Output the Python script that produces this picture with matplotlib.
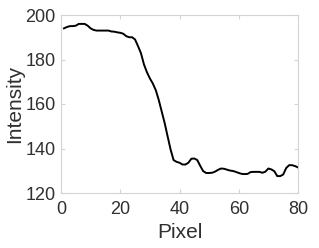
import numpy as np
import matplotlib.pyplot as plt

# perfil de intensidad a lo largo de la linea
pixel = np.arange(1, 81)
intensidad = [194, 194.6, 195, 195, 195.2, 196, 196, 196, 195.2, 194,
              193.3, 193, 193, 193, 193, 193, 192.6, 192.5, 192.2, 192,
              191.6, 190.5, 190, 190, 189, 186, 182.8, 177.8, 174.3, 171.5,
              169.2, 166.2, 161.8, 156.6, 151.4, 145.4, 139.5, 134.8, 134, 133.6,
              132.8, 132.8, 133.6, 135.4, 135.5, 134.8, 132.2, 129.8, 129, 129,
              129.1, 129.6, 130.4, 131, 130.9, 130.5, 130.1, 129.9, 129.5, 129,
              128.6, 128.5, 128.6, 129.4, 129.5, 129.5, 129.5, 129.1, 129.6, 131,
              130.6, 129.8, 127.6, 127.6, 128.3, 131.2, 132.5, 132.5, 132.1, 131.5]

plt.rcParams['font.family'] = ['Liberation Sans', 'DejaVu Sans']

fig = plt.figure(figsize=(3.19, 2.48), dpi=100)
ax = fig.add_axes([61 / 319, 55 / 248, 237 / 319, 178 / 248])

ax.plot(pixel, intensidad, color='black', linewidth=1.4)
ax.set_xlim(0, 80)
ax.set_ylim(120, 200)
ax.set_xticks([0, 20, 40, 60, 80])
ax.set_yticks([120, 140, 160, 180, 200])

for s in ax.spines.values():
    s.set_color('#d4d4d4')
    s.set_linewidth(0.8)
ax.tick_params(direction='in', length=3, color='#d4d4d4', labelsize=13,
               labelcolor='#303030', top=True, right=True)
ax.tick_params(axis='x', pad=6)
ax.tick_params(axis='y', pad=4)
ax.set_xlabel('Pixel', fontsize=15, color='#303030', labelpad=3)
ax.set_ylabel('Intensity', fontsize=15, color='#303030', labelpad=1)

plt.savefig('out.png', dpi=100)
